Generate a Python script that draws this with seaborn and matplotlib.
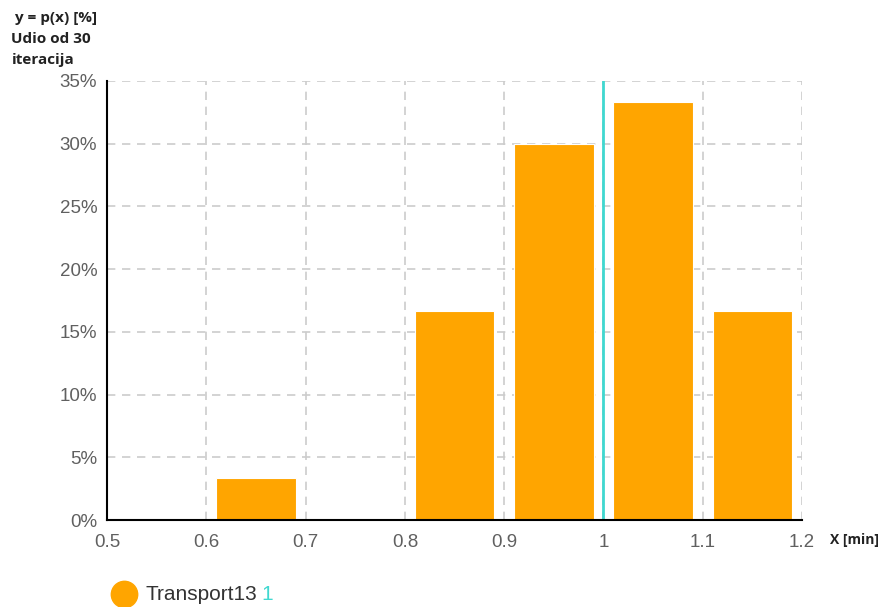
import matplotlib
matplotlib.use("Agg")
import matplotlib.pyplot as plt
import seaborn as sns
from matplotlib.ticker import FuncFormatter

# histogram data (share of 30 iterations)
bin_centers = [0.65, 0.85, 0.95, 1.05, 1.15]
shares = [3.33, 16.67, 30.0, 33.33, 16.67]
x_ticks = [0.5, 0.6, 0.7, 0.8, 0.9, 1.0, 1.1, 1.2]
y_ticks = [0, 5, 10, 15, 20, 25, 30, 35]
marker_x = 1.0
series_name = "Transport13"

sns.set_style("white")
plt.rcParams['font.family'] = ['Liberation Sans', 'DejaVu Sans']

fig = plt.figure(figsize=(8.8, 6.07), dpi=100)
ax = fig.add_axes([0.1216, 0.1433, 0.7898, 0.7233])

sns.barplot(x=bin_centers, y=shares, native_scale=True, width=0.8,
            color="#FFA500", saturation=1, edgecolor="white", linewidth=0.8,
            ax=ax, zorder=3)

ax.axvline(marker_x, color="#40D8D0", linewidth=2, zorder=4)

ax.set_xlim(0.5, 1.2)
ax.set_ylim(0, 35)
ax.set_xticks(x_ticks)
ax.set_yticks(y_ticks)
ax.xaxis.set_major_formatter(FuncFormatter(lambda v, p: f"{v:g}"))
ax.yaxis.set_major_formatter(FuncFormatter(lambda v, p: f"{v:g}%"))
ax.grid(True, color="#CCCCCC", linestyle=(0, (5, 4)), linewidth=1.2, zorder=0)
ax.tick_params(axis="both", colors="#888888", labelcolor="#606060",
               labelsize=13.5, length=5, width=1, direction="out", pad=2)
ax.tick_params(axis="x", pad=5)

for side in ["top", "right"]:
    ax.spines[side].set_visible(False)
for side in ["left", "bottom"]:
    ax.spines[side].set_color("black")
    ax.spines[side].set_linewidth(1.5)
    ax.spines[side].set_zorder(5)
ax.set_xlabel("")
ax.set_ylabel("")

fig.text(0.013, 0.982, " y = p(x) [%]\nUdio od 30\niteracija", ha="left", va="top",
         fontsize=11, fontweight="bold", color="#222222", linespacing=1.65,
         family=["Open Sans", "DejaVu Sans"])
fig.text(0.943, 0.11, "X [min]", ha="left", va="center", fontsize=10,
         fontweight="bold", color="#222222", family=["Open Sans", "DejaVu Sans"])

# legend
fig.lines.append(plt.Line2D([0.141], [0.021], transform=fig.transFigure,
                            marker="o", markersize=19, color="#FFA500",
                            linestyle="none"))
t = fig.text(0.165, 0.021, series_name, ha="left", va="center", fontsize=15,
             color="#333333")
fig.canvas.draw()
bb = t.get_window_extent().transformed(fig.transFigure.inverted())
fig.text(bb.x1 + 0.005, 0.021, "1", ha="left", va="center", fontsize=15,
         color="#40D8D0")

fig.savefig("out.png", dpi=100)
